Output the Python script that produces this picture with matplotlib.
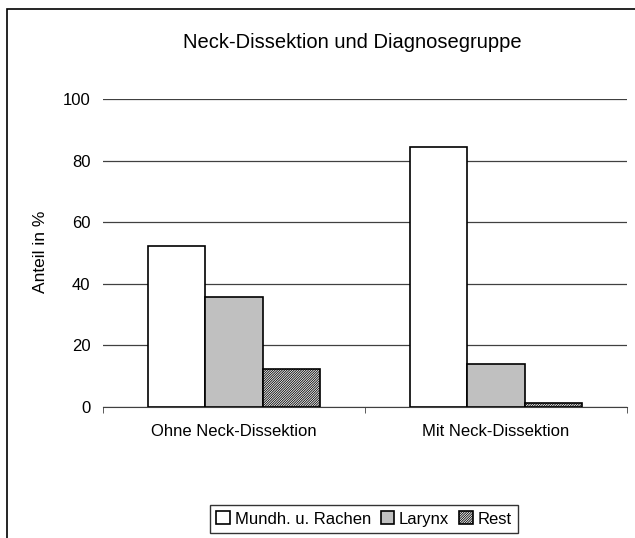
import matplotlib
matplotlib.use("Agg")
import matplotlib.pyplot as plt
import numpy as np
from matplotlib.patches import Rectangle

plt.rcParams['font.family'] = ['Liberation Sans', 'DejaVu Sans']
plt.rcParams['hatch.linewidth'] = 0.6

# Daten
gruppen = ['Ohne Neck-Dissektion', 'Mit Neck-Dissektion']
serien = ['Mundh. u. Rachen', 'Larynx', 'Rest']
mundh = [52.3, 84.5]
larynx = [35.7, 14.0]
rest = [12.4, 1.4]
yticks = [0, 20, 40, 60, 80, 100]

W, H = 635, 538
fig = plt.figure(figsize=(W / 100, H / 100), dpi=100)
ax = fig.add_axes([103 / W, 1 - 407 / H, (627 - 103) / W, (407 - 99) / H])

# Rahmen um das Diagramm
fig.patches.append(Rectangle((7 / W, -0.1), 1.2, 1 - 9 / H + 0.1, transform=fig.transFigure,
                             fill=False, edgecolor='black', linewidth=1.2))

x = np.array([0.5, 1.5])
bw = 0.22
stile = [dict(facecolor='white'), dict(facecolor='#c0c0c0'),
         dict(facecolor='white', hatch='/' * 14)]
for i, (werte, st) in enumerate(zip([mundh, larynx, rest], stile)):
    ax.bar(x + (i - 1) * bw, werte, bw, edgecolor='black', linewidth=1.2,
           label=serien[i], zorder=3, **st)

ax.set_xlim(0, 2)
ax.set_ylim(0, 100)
ax.set_yticks(yticks)
ax.yaxis.grid(True, color='#404040', linewidth=0.9, zorder=0)
ax.set_xticks(x)
ax.set_xticklabels(gruppen, fontsize=12)
ax.set_xticks([0, 1, 2], minor=True)
ax.tick_params(axis='x', which='major', length=0, pad=12)
ax.tick_params(axis='x', which='minor', length=4, direction='out', color='#404040')
ax.tick_params(axis='y', length=0, labelsize=12, pad=9)
for s in ['top', 'right', 'left']:
    ax.spines[s].set_visible(False)
ax.spines['bottom'].set_color('#404040')
ax.set_ylabel('Anteil in %', fontsize=12.5)
ax.yaxis.set_label_coords(-0.105, 0.505)

fig.text(352 / W, 1 - 42 / H, 'Neck-Dissektion und Diagnosegruppe',
         ha='center', va='center', fontsize=14.5)

leg = fig.legend(loc='center', bbox_to_anchor=(364 / W, 1 - 519 / H), ncol=3, fontsize=12,
                 frameon=True, fancybox=False, edgecolor='black', handlelength=0.8,
                 handleheight=0.8, handletextpad=0.3, columnspacing=0.6, borderpad=0.4)
leg.get_frame().set_linewidth(1.0)

fig.savefig('out.png', dpi=100, facecolor='white')
